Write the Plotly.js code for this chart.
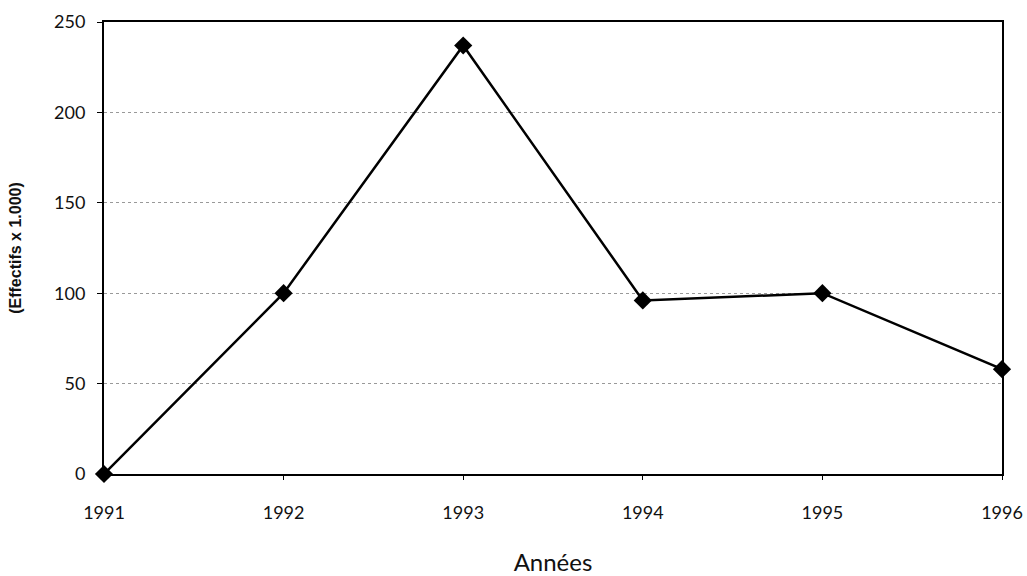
<!DOCTYPE html>
<html>
<head>
<meta charset="utf-8">
<script src="https://cdn.plot.ly/plotly-3.0.1.min.js"></script>
<style>html,body{margin:0;padding:0;background:#fff;}#chart{width:1027px;height:576px;}</style>
</head>
<body>
<div id="chart"></div>
<script>
const years = [1991, 1992, 1993, 1994, 1995, 1996];
const effectifs = [0, 100, 237, 96, 100, 58];
const yTicks = [0, 50, 100, 150, 200, 250];
const xTitle = "Années";
const yTitle = "(Effectifs x 1.000)";

const trace = {
  x: years,
  y: effectifs,
  type: "scatter",
  mode: "lines+markers",
  line: {color: "#000", width: 2.5},
  marker: {symbol: "diamond", size: 14, color: "#000"},
  cliponaxis: false,
  hoverinfo: "x+y"
};

const layout = {
  width: 1027, height: 576,
  margin: {l: 104, r: 25, t: 22, b: 102},
  paper_bgcolor: "#fff", plot_bgcolor: "#fff",
  showlegend: false,
  font: {family: "Lato, 'DejaVu Sans', sans-serif", color: "#111"},
  xaxis: {
    range: [1991, 1996],
    tickvals: years,
    ticktext: years.map(String),
    showgrid: false,
    zeroline: false,
    showline: true, linecolor: "#000", linewidth: 2, mirror: true,
    ticks: "outside", ticklen: 4, tickcolor: "#000",
    ticklabelstandoff: 17,
    tickfont: {size: 18, family: "Lato, sans-serif", color: "#111"},
    title: {text: xTitle, font: {size: 24, family: "Lato, sans-serif", color: "#111"}, standoff: 36}
  },
  yaxis: {
    range: [0, 250],
    tickvals: yTicks,
    ticktext: yTicks.map(String),
    showgrid: true, gridcolor: "#999", griddash: "dot", gridwidth: 1,
    zeroline: false,
    showline: true, linecolor: "#000", linewidth: 2, mirror: true,
    ticks: "outside", ticklen: 5, tickcolor: "#000",
    ticklabelstandoff: 8,
    tickfont: {size: 18, family: "Lato, sans-serif", color: "#111"},
    title: {text: yTitle, font: {size: 16, family: "'Liberation Sans', Arial, sans-serif", color: "#111", weight: "bold"}, standoff: 28}
  }
};

Plotly.newPlot("chart", [trace], layout, {displayModeBar: false, staticPlot: true});
</script>
</body>
</html>
